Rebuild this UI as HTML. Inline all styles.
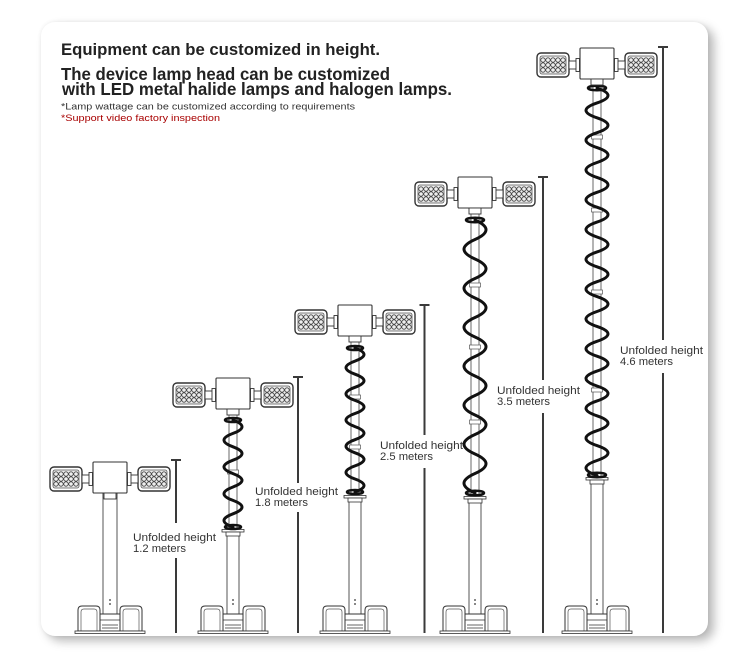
<!DOCTYPE html>
<html><head><meta charset="utf-8"><style>
html,body{margin:0;padding:0;width:750px;height:660px;background:#fff;overflow:hidden}
#card{position:absolute;left:41px;top:22px;width:667px;height:614px;border-radius:14px;background:#fff;box-shadow:6px 5px 10px rgba(0,0,0,0.28),0 0 4px rgba(0,0,0,0.07)}
svg{position:absolute;left:0;top:0}
</style></head><body>
<div id="card"></div>
<svg width="750" height="660" viewBox="0 0 750 660" xmlns="http://www.w3.org/2000/svg" xmlns:xlink="http://www.w3.org/1999/xlink">
<defs>
 <g id="lamp">
  <rect x="-16" y="-12" width="32" height="24" rx="4" fill="#fff" stroke="#333" stroke-width="1.4"/>
  <rect x="-13" y="-9" width="26" height="18" rx="2" fill="#eee" stroke="#555" stroke-width="0.8"/>
  <g fill="none" stroke="#444" stroke-width="0.8">
   <circle cx="-10" cy="-5" r="2.2"/><circle cx="-5" cy="-5" r="2.2"/><circle cx="0" cy="-5" r="2.2"/><circle cx="5" cy="-5" r="2.2"/><circle cx="10" cy="-5" r="2.2"/>
   <circle cx="-10" cy="0" r="2.2"/><circle cx="-5" cy="0" r="2.2"/><circle cx="0" cy="0" r="2.2"/><circle cx="5" cy="0" r="2.2"/><circle cx="10" cy="0" r="2.2"/>
   <circle cx="-10" cy="5" r="2.2"/><circle cx="-5" cy="5" r="2.2"/><circle cx="0" cy="5" r="2.2"/><circle cx="5" cy="5" r="2.2"/><circle cx="10" cy="5" r="2.2"/>
  </g>
 </g>
 <g id="head">
  <use href="#lamp" xlink:href="#lamp" x="-44" y="17"/>
  <use href="#lamp" xlink:href="#lamp" x="44" y="17"/>
  <g fill="#fff" stroke="#333" stroke-width="0.9">
   <rect x="-28" y="13" width="8" height="8"/>
   <rect x="-21" y="10.5" width="3.5" height="13"/>
   <rect x="20" y="13" width="8" height="8"/>
   <rect x="17.5" y="10.5" width="3.5" height="13"/>
   <rect x="-17" y="0" width="34" height="31" rx="1" stroke-width="1.1"/>
   <rect x="-6" y="31" width="12" height="6"/>
  </g>
 </g>
 <g id="base" fill="#fff" stroke="#333" stroke-width="1">
  <path d="M-32 631 V610 Q-32 606 -28 606 H-14 Q-10 606 -10 610 V631 Z"/>
  <path d="M-29 631 V612 Q-29 609 -26 609 H-16 Q-13 609 -13 612 V631" fill="none" stroke="#555" stroke-width="0.7"/>
  <path d="M32 631 V610 Q32 606 28 606 H14 Q10 606 10 610 V631 Z"/>
  <path d="M29 631 V612 Q29 609 26 609 H16 Q13 609 13 612 V631" fill="none" stroke="#555" stroke-width="0.7"/>
  <rect x="-10" y="614" width="20" height="17"/>
  <path d="M-10 620 H10 M-8 625 H8 M-8 628 H8" fill="none" stroke-width="0.8"/>
  <rect x="-35" y="631" width="70" height="2.5" stroke-width="0.8"/>
 </g>
</defs>

<!-- Text -->
<g font-family="'Liberation Sans', sans-serif" fill="#222" font-weight="bold">
 <text x="61" y="55" font-size="17" textLength="319" lengthAdjust="spacingAndGlyphs">Equipment can be customized in height.</text>
 <text x="61" y="80" font-size="17.5" textLength="329" lengthAdjust="spacingAndGlyphs">The device lamp head can be customized</text>
 <text x="62" y="95" font-size="17.5" textLength="390" lengthAdjust="spacingAndGlyphs">with LED metal halide lamps and halogen lamps.</text>
</g>
<text x="61" y="109.5" font-family="'Liberation Sans', sans-serif" font-size="9.5" fill="#333" textLength="294" lengthAdjust="spacingAndGlyphs">*Lamp wattage can be customized according to requirements</text>
<text x="61" y="121" font-family="'Liberation Sans', sans-serif" font-size="9.5" fill="#a80000" textLength="159" lengthAdjust="spacingAndGlyphs">*Support video factory inspection</text>

<!-- Height bars -->
<g stroke="#3a3a3a" stroke-width="2" fill="none">
 <path d="M176 460 V523 M176 558 V633 M171 460 H181"/>
 <path d="M298 377 V483 M298 512 V633 M293 377 H303"/>
 <path d="M424.5 305 V435 M424.5 468 V633 M419.5 305 H429.5"/>
 <path d="M543 177 V380 M543 413 V633 M538 177 H548"/>
 <path d="M663 47 V340 M663 373 V633 M658 47 H668"/>
</g>

<!-- Labels -->
<g font-family="'Liberation Sans', sans-serif" font-size="11" fill="#333">
 <text x="133" y="541" textLength="83" lengthAdjust="spacingAndGlyphs">Unfolded height</text>
 <text x="133" y="552" textLength="53" lengthAdjust="spacingAndGlyphs">1.2 meters</text>
 <text x="255" y="495" textLength="83" lengthAdjust="spacingAndGlyphs">Unfolded height</text>
 <text x="255" y="506" textLength="53" lengthAdjust="spacingAndGlyphs">1.8 meters</text>
 <text x="380" y="449" textLength="83" lengthAdjust="spacingAndGlyphs">Unfolded height</text>
 <text x="380" y="460" textLength="53" lengthAdjust="spacingAndGlyphs">2.5 meters</text>
 <text x="497" y="394" textLength="83" lengthAdjust="spacingAndGlyphs">Unfolded height</text>
 <text x="497" y="405" textLength="53" lengthAdjust="spacingAndGlyphs">3.5 meters</text>
 <text x="620" y="354" textLength="83" lengthAdjust="spacingAndGlyphs">Unfolded height</text>
 <text x="620" y="365" textLength="53" lengthAdjust="spacingAndGlyphs">4.6 meters</text>
</g>

<!-- Tower 1 -->
<g>
 <rect x="103" y="493" width="14" height="121" fill="#fff" stroke="#444" stroke-width="0.9"/>
 <use href="#base" xlink:href="#base" transform="translate(110,0)"/>
 <rect x="103" y="493" width="14" height="5" fill="#fff" stroke="#444" stroke-width="0.9"/>
 <circle cx="110" cy="600" r="0.9" fill="#333"/><circle cx="110" cy="604" r="0.9" fill="#333"/>
 <use href="#head" xlink:href="#head" transform="translate(110,462)"/>
</g>

<!-- Tower 2 -->
<g>
 <rect x="229" y="414" width="8" height="118" fill="#fff" stroke="#444" stroke-width="0.8"/>
 <rect x="227" y="533" width="12" height="81" fill="#fff" stroke="#444" stroke-width="0.9"/>
 <use href="#base" xlink:href="#base" transform="translate(233,0)"/>
 <rect x="222" y="529.5" width="22" height="2.5" fill="#fff" stroke="#333" stroke-width="0.8"/>
 <rect x="226" y="532" width="14" height="4" fill="#fff" stroke="#333" stroke-width="0.8"/>
 <rect x="227.5" y="470" width="11" height="4" fill="#fff" stroke="#555" stroke-width="0.7"/>
 <circle cx="233" cy="600" r="0.9" fill="#333"/><circle cx="233" cy="604" r="0.9" fill="#333"/>
 <path d="M233 420 q18 6.7 0 13.4 t0 13.4 t0 13.4 t0 13.4 t0 13.4 t0 13.4 t0 13.4 t0 13.4" fill="none" stroke="#111" stroke-width="3" stroke-linecap="round"/>
 <ellipse cx="233" cy="420" rx="8" ry="2" fill="none" stroke="#111" stroke-width="2.5"/>
 <ellipse cx="233" cy="527" rx="8" ry="2" fill="none" stroke="#111" stroke-width="2.5"/>
 <use href="#head" xlink:href="#head" transform="translate(233,378)"/>
</g>

<!-- Tower 3 -->
<g>
 <rect x="351" y="341" width="8" height="157" fill="#fff" stroke="#444" stroke-width="0.8"/>
 <rect x="349" y="499" width="12" height="115" fill="#fff" stroke="#444" stroke-width="0.9"/>
 <use href="#base" xlink:href="#base" transform="translate(355,0)"/>
 <rect x="344" y="495.5" width="22" height="2.5" fill="#fff" stroke="#333" stroke-width="0.8"/>
 <rect x="348" y="498" width="14" height="4" fill="#fff" stroke="#333" stroke-width="0.8"/>
 <rect x="349.5" y="395" width="11" height="4" fill="#fff" stroke="#555" stroke-width="0.7"/>
 <rect x="349.5" y="445" width="11" height="4" fill="#fff" stroke="#555" stroke-width="0.7"/>
 <circle cx="355" cy="600" r="0.9" fill="#333"/><circle cx="355" cy="604" r="0.9" fill="#333"/>
 <path d="M355 348 q18 6.55 0 13.1 t0 13.1 t0 13.1 t0 13.1 t0 13.1 t0 13.1 t0 13.1 t0 13.1 t0 13.1 t0 13.1 t0 13.1" fill="none" stroke="#111" stroke-width="3" stroke-linecap="round"/>
 <ellipse cx="355" cy="348" rx="8" ry="2" fill="none" stroke="#111" stroke-width="2.5"/>
 <ellipse cx="355" cy="492" rx="8" ry="2" fill="none" stroke="#111" stroke-width="2.5"/>
 <use href="#head" xlink:href="#head" transform="translate(355,305)"/>
</g>

<!-- Tower 4 -->
<g>
 <rect x="471" y="213" width="8" height="286" fill="#fff" stroke="#444" stroke-width="0.8"/>
 <rect x="469" y="500" width="12" height="114" fill="#fff" stroke="#444" stroke-width="0.9"/>
 <use href="#base" xlink:href="#base" transform="translate(475,0)"/>
 <rect x="464" y="496.5" width="22" height="2.5" fill="#fff" stroke="#333" stroke-width="0.8"/>
 <rect x="468" y="499" width="14" height="4" fill="#fff" stroke="#333" stroke-width="0.8"/>
 <rect x="469.5" y="283" width="11" height="4" fill="#fff" stroke="#555" stroke-width="0.7"/>
 <rect x="469.5" y="345" width="11" height="4" fill="#fff" stroke="#555" stroke-width="0.7"/>
 <rect x="469.5" y="420" width="11" height="4" fill="#fff" stroke="#555" stroke-width="0.7"/>
 <circle cx="475" cy="600" r="0.9" fill="#333"/><circle cx="475" cy="604" r="0.9" fill="#333"/>
 <path d="M475 220 q22 9.75 0 19.5 t0 19.5 t0 19.5 t0 19.5 t0 19.5 t0 19.5 t0 19.5 t0 19.5 t0 19.5 t0 19.5 t0 19.5 t0 19.5 t0 19.5 t0 19.5" fill="none" stroke="#111" stroke-width="3" stroke-linecap="round"/>
 <ellipse cx="475" cy="220" rx="9" ry="2.2" fill="none" stroke="#111" stroke-width="2.5"/>
 <ellipse cx="475" cy="493" rx="9" ry="2.2" fill="none" stroke="#111" stroke-width="2.5"/>
 <use href="#head" xlink:href="#head" transform="translate(475,177)"/>
</g>

<!-- Tower 5 -->
<g>
 <rect x="593" y="84" width="8" height="396" fill="#fff" stroke="#444" stroke-width="0.8"/>
 <rect x="591" y="481" width="12" height="133" fill="#fff" stroke="#444" stroke-width="0.9"/>
 <use href="#base" xlink:href="#base" transform="translate(597,0)"/>
 <rect x="586" y="477.5" width="22" height="2.5" fill="#fff" stroke="#333" stroke-width="0.8"/>
 <rect x="590" y="480" width="14" height="4" fill="#fff" stroke="#333" stroke-width="0.8"/>
 <rect x="591.5" y="135" width="11" height="4" fill="#fff" stroke="#555" stroke-width="0.7"/>
 <rect x="591.5" y="208" width="11" height="4" fill="#fff" stroke="#555" stroke-width="0.7"/>
 <rect x="591.5" y="290" width="11" height="4" fill="#fff" stroke="#555" stroke-width="0.7"/>
 <rect x="591.5" y="388" width="11" height="4" fill="#fff" stroke="#555" stroke-width="0.7"/>
 <circle cx="597" cy="600" r="0.9" fill="#333"/><circle cx="597" cy="604" r="0.9" fill="#333"/>
 <path d="M597 88 q22 7.45 0 14.9 t0 14.9 t0 14.9 t0 14.9 t0 14.9 t0 14.9 t0 14.9 t0 14.9 t0 14.9 t0 14.9 t0 14.9 t0 14.9 t0 14.9 t0 14.9 t0 14.9 t0 14.9 t0 14.9 t0 14.9 t0 14.9 t0 14.9 t0 14.9 t0 14.9 t0 14.9 t0 14.9 t0 14.9 t0 14.9" fill="none" stroke="#111" stroke-width="3" stroke-linecap="round"/>
 <ellipse cx="597" cy="88" rx="9" ry="2.2" fill="none" stroke="#111" stroke-width="2.5"/>
 <ellipse cx="597" cy="475" rx="9" ry="2.2" fill="none" stroke="#111" stroke-width="2.5"/>
 <use href="#head" xlink:href="#head" transform="translate(597,48)"/>
</g>
</svg>
</body></html>
